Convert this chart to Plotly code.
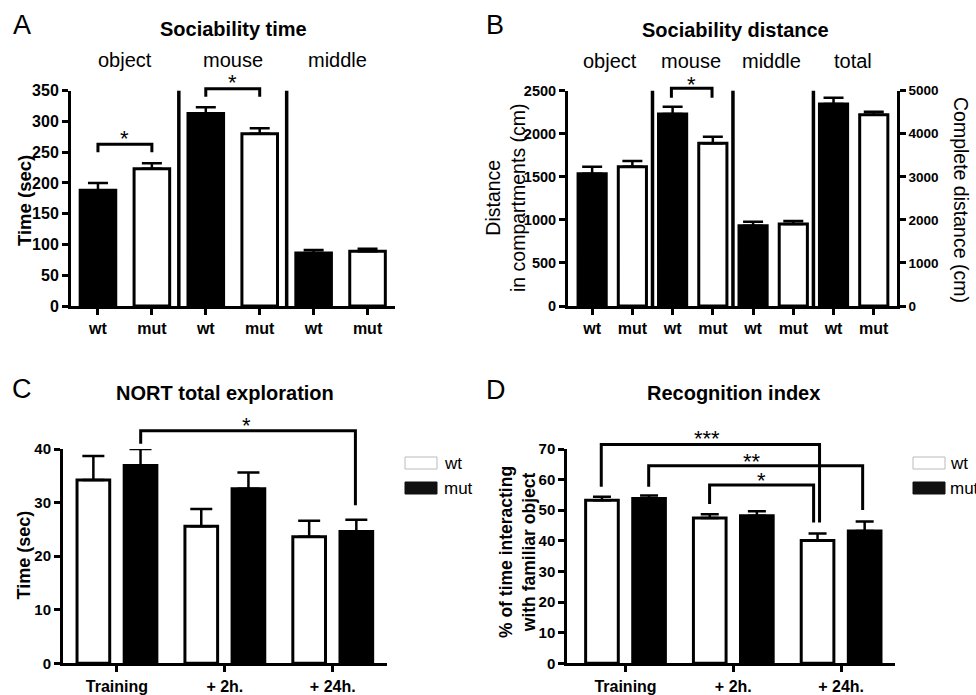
import plotly.graph_objects as go

# ---------------- DATA ----------------
# Panel A: Sociability time (wt = black, mut = white)
A_groups = ["object", "mouse", "middle"]
A_genotypes = ["wt", "mut", "wt", "mut", "wt", "mut"]
A_time = [188, 223, 313, 280, 86, 89]
A_time_sem = [12, 9, 10, 9, 5, 4]

# Panel B: Sociability distance
B_groups = ["object", "mouse", "middle", "total"]
B_genotypes = ["wt", "mut", "wt", "mut", "wt", "mut", "wt", "mut"]
B_dist = [1536, 1618, 2230, 1890, 933, 952]
B_dist_sem = [82, 66, 85, 76, 46, 35]
B_total = [4690, 4443]
B_total_sem = [148, 70]

# Panel C: NORT total exploration (wt = white, mut = black)
C_timepoints = ["Training", "+ 2h.", "+ 24h."]
C_wt = [34.2, 25.6, 23.6]
C_wt_sem = [4.5, 3.2, 3.0]
C_mut = [36.9, 32.6, 24.6]
C_mut_sem = [3.1, 3.0, 2.2]

# Panel D: Recognition index
D_timepoints = ["Training", "+ 2h.", "+ 24h."]
D_wt = [53.3, 47.5, 40.1]
D_wt_sem = [1.1, 1.2, 2.3]
D_mut = [53.8, 48.2, 43.2]
D_mut_sem = [1.0, 1.5, 3.1]

# ---------------- LAYOUT HELPERS ----------------
W, H = 976, 695
FONT = "Liberation Sans, Arial, sans-serif"


def fx(p):
    return p / W


def fy(p):
    return 1 - p / H


# domains (in pixels -> paper)
A_xd = [fx(71), fx(394.5)]
B_xd = [fx(568), fx(896.7)]
C_xd = [fx(63), fx(386.7)]
D_xd = [fx(567.3), fx(895)]
TOP_yd = [fy(306), fy(90.7)]
BOT_yd = [fy(663.3), fy(449)]

A_yr = [0, 350]
B_yr = [0, 2500]
B_yr2 = [0, 5000]
C_yr = [0, 40]
D_yr = [0, 70]


def yp(v, dom, rng):
    return dom[0] + (v - rng[0]) / (rng[1] - rng[0]) * (dom[1] - dom[0])


fig = go.Figure()


def err(vals, width=10):
    return dict(type="data", array=vals, arrayminus=[0] * len(vals), symmetric=False,
                color="black", thickness=2.5, width=width, visible=True)


def col_AB(g):
    return "black" if g == "wt" else "white"


# Panel A
fig.add_trace(go.Bar(
    x=list(range(len(A_time))), y=A_time, width=0.66,
    marker=dict(color=[col_AB(g) for g in A_genotypes], line=dict(color="black", width=3)),
    error_y=err(A_time_sem, 10), xaxis="x", yaxis="y", showlegend=False, hoverinfo="y"))

# Panel B
fig.add_trace(go.Bar(
    x=list(range(len(B_dist))), y=B_dist, width=0.70,
    marker=dict(color=[col_AB(g) for g in B_genotypes[:len(B_dist)]], line=dict(color="black", width=3)),
    error_y=err(B_dist_sem, 10), xaxis="x2", yaxis="y2", showlegend=False, hoverinfo="y"))
fig.add_trace(go.Bar(
    x=list(range(len(B_dist), len(B_dist) + len(B_total))), y=B_total, width=0.70,
    marker=dict(color=[col_AB(g) for g in B_genotypes[len(B_dist):]], line=dict(color="black", width=3)),
    error_y=err(B_total_sem, 10), xaxis="x2", yaxis="y3", showlegend=False, hoverinfo="y"))

# Panel C
BW = 0.303
OFF_WT, OFF_MUT = -0.37, 0.067
fig.add_trace(go.Bar(
    x=list(range(len(C_wt))), y=C_wt, width=BW, offset=OFF_WT, name="wt",
    marker=dict(color="white", line=dict(color="black", width=3)),
    error_y=err(C_wt_sem, 11), xaxis="x3", yaxis="y4", showlegend=False))
fig.add_trace(go.Bar(
    x=list(range(len(C_mut))), y=C_mut, width=BW, offset=OFF_MUT, name="mut",
    marker=dict(color="black", line=dict(color="black", width=3)),
    error_y=err(C_mut_sem, 11), xaxis="x3", yaxis="y4", showlegend=False))

# Panel D
fig.add_trace(go.Bar(
    x=list(range(len(D_wt))), y=D_wt, width=BW, offset=OFF_WT, name="wt",
    marker=dict(color="white", line=dict(color="black", width=3)),
    error_y=err(D_wt_sem, 9), xaxis="x4", yaxis="y5", showlegend=False))
fig.add_trace(go.Bar(
    x=list(range(len(D_mut))), y=D_mut, width=BW, offset=OFF_MUT, name="mut",
    marker=dict(color="black", line=dict(color="black", width=3)),
    error_y=err(D_mut_sem, 9), xaxis="x4", yaxis="y5", showlegend=False))


def axis_style(size):
    return dict(showline=True, linewidth=3, linecolor="black", ticks="outside",
                ticklen=6, tickwidth=2.5, tickcolor="black", showgrid=False, zeroline=False,
                automargin=False,
                tickfont=dict(family=FONT, size=size, color="black", weight="bold"),
                fixedrange=True)


fig.update_layout(
    width=W, height=H, margin=dict(l=0, r=0, t=0, b=0, pad=0, autoexpand=False), autosize=False,
    paper_bgcolor="white", plot_bgcolor="rgba(0,0,0,0)",
    barmode="overlay", showlegend=False,
    font=dict(family=FONT, color="black"),
    xaxis=dict(domain=A_xd, range=[-0.5, 5.5], anchor="y",
               tickvals=list(range(len(A_time))), ticktext=A_genotypes, **axis_style(16)),
    yaxis=dict(domain=TOP_yd, range=A_yr, anchor="x", dtick=50, **axis_style(16)),
    xaxis2=dict(domain=B_xd, range=[-0.6, 7.57], anchor="y2",
                tickvals=list(range(len(B_genotypes))), ticktext=B_genotypes, **axis_style(16)),
    yaxis2=dict(domain=TOP_yd, range=B_yr, anchor="x2", dtick=500, **axis_style(14.5)),
    yaxis3=dict(range=B_yr2, anchor="x2", overlaying="y2", side="right", dtick=1000, **axis_style(13.5)),
    xaxis3=dict(domain=C_xd, range=[-0.5, 2.5], anchor="y4",
                tickvals=list(range(len(C_timepoints))), ticktext=C_timepoints, **axis_style(16)),
    yaxis4=dict(domain=BOT_yd, range=C_yr, anchor="x3", dtick=10, **axis_style(15)),
    xaxis4=dict(domain=D_xd, range=[-0.54, 2.5], anchor="y5",
                tickvals=list(range(len(D_timepoints))), ticktext=D_timepoints, **axis_style(16)),
    yaxis5=dict(domain=BOT_yd, range=D_yr, anchor="x4", dtick=10, **axis_style(15)),
)

shapes = []
annotations = []


def bracket(xref, dom, rng, x0, x1, ytop, yl0, yl1):
    shapes.append(dict(
        type="path", xref=xref, yref="paper",
        path=f"M {x0},{yp(yl0, dom, rng)} L {x0},{yp(ytop, dom, rng)} "
             f"L {x1},{yp(ytop, dom, rng)} L {x1},{yp(yl1, dom, rng)}",
        line=dict(color="black", width=3)))


def star(xref, dom, rng, x, y, text, size=22):
    annotations.append(dict(xref=xref, yref="paper", x=x, y=yp(y, dom, rng), text=text,
                            showarrow=False, yshift=-5, xanchor="center", yanchor="middle",
                            font=dict(family=FONT, size=size, color="black")))


def separator(xref, dom, x):
    shapes.append(dict(type="line", xref=xref, yref="paper", x0=x, x1=x, y0=dom[0], y1=dom[1],
                       line=dict(color="black", width=3.5)))


# Panel A extras
separator("x", TOP_yd, 1.5)
separator("x", TOP_yd, 3.5)
bracket("x", TOP_yd, A_yr, 0, 1, 263, 250, 250)
star("x", TOP_yd, A_yr, 0.5, 281, "*")
bracket("x", TOP_yd, A_yr, 2, 3, 353, 340, 340)
star("x", TOP_yd, A_yr, 2.5, 372, "*")

# Panel B extras
separator("x2", TOP_yd, 1.5)
separator("x2", TOP_yd, 3.5)
separator("x2", TOP_yd, 5.5)
bracket("x2", TOP_yd, B_yr, 1.97, 2.98, 2528, 2419, 2419)
star("x2", TOP_yd, B_yr, 2.47, 2625, "*")

# Panel C extras
bracket("x3", BOT_yd, C_yr, 0.22, 2.21, 43.4, 41.0, 29.5)
star("x3", BOT_yd, C_yr, 1.2, 45.4, "*")

# Panel D extras
bracket("x4", BOT_yd, D_yr, -0.225, 1.80, 71.5, 57.7, 46.0)
star("x4", BOT_yd, D_yr, 0.76, 75.1, "***")
bracket("x4", BOT_yd, D_yr, 0.215, 2.2, 64.5, 57.7, 50.1)
star("x4", BOT_yd, D_yr, 1.17, 67.7, "**")
bracket("x4", BOT_yd, D_yr, 0.78, 1.745, 58.2, 52.0, 46.0)
star("x4", BOT_yd, D_yr, 1.26, 61.2, "*")


def text(xp, ypx, t, size, bold=False, angle=0, xanchor="center", yanchor="middle"):
    annotations.append(dict(xref="paper", yref="paper", x=fx(xp), y=fy(ypx), text=t,
                            showarrow=False, textangle=angle, xanchor=xanchor, yanchor=yanchor,
                            font=dict(family=FONT, size=size, color="black",
                                      weight="bold" if bold else "normal")))


# panel letters
text(21.5, 25, "A", 27)
text(495, 25, "B", 27)
text(22, 389, "C", 27)
text(496, 390, "D", 27)

# titles
text(233, 29, "Sociability time", 20, bold=True)
text(735, 30, "Sociability distance", 20, bold=True)
text(225, 393, "NORT total exploration", 20, bold=True)
text(733, 393, "Recognition index", 20, bold=True)

# group labels
for lab, xi in zip(A_groups, [0.5, 2.5, 4.45]):
    annotations.append(dict(xref="x", yref="paper", x=xi, y=fy(60), text=lab, showarrow=False,
                            xanchor="center", yanchor="middle",
                            font=dict(family=FONT, size=20, color="black")))
for lab, xi in zip(B_groups, [0.45, 2.46, 4.45, 6.48]):
    annotations.append(dict(xref="x2", yref="paper", x=xi, y=fy(61.5), text=lab, showarrow=False,
                            xanchor="center", yanchor="middle",
                            font=dict(family=FONT, size=20, color="black")))

# axis titles
text(24, 201, "Time (sec)", 18.5, bold=True, angle=-90)
text(506, 198, "Distance<br>in compartments (cm)", 19.5, angle=-90)
text(961, 200, "Complete distance (cm)", 19.5, angle=90)
text(23.5, 555, "Time (sec)", 18, bold=True, angle=-90)
text(517, 552, "% of time interacting<br>with familiar object", 17.5, bold=True, angle=-90)

# legends (C and D)
for lx, tx in [(405, 442), (913, 948)]:
    shapes.append(dict(type="rect", xref="paper", yref="paper", x0=fx(lx), x1=fx(lx + 32),
                       y0=fy(469), y1=fy(457), fillcolor="white", line=dict(color="#bbbbbb", width=1)))
    shapes.append(dict(type="rect", xref="paper", yref="paper", x0=fx(lx), x1=fx(lx + 32),
                       y0=fy(494), y1=fy(482), fillcolor="#111111", line=dict(color="#111111", width=1)))
    text(tx, 463, "wt", 17, xanchor="left")
    text(tx, 488, "mut", 17, xanchor="left")

fig.update_layout(shapes=shapes, annotations=annotations)

fig.write_html(
    "out.html",
    config={"responsive": False, "displayModeBar": False},
    post_script="document.body.style.margin='0';document.body.style.padding='0';"
                "document.body.style.overflow='hidden';",
)
